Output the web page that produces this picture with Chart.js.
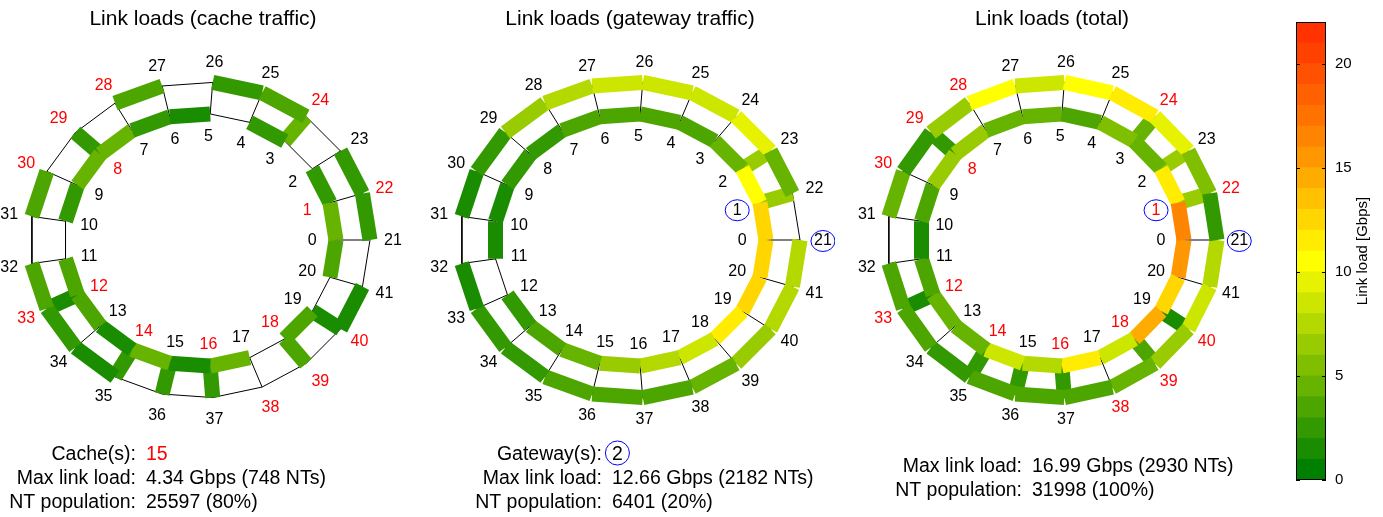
<!DOCTYPE html>
<html lang="en">
<head>
<meta charset="UTF-8">
<title>Link loads</title>
<script src="https://cdn.jsdelivr.net/npm/chart.js@4.4.1/dist/chart.umd.min.js"></script>
<style>
  html, body {margin: 0; padding: 0; background: #fff; overflow: hidden;}
  canvas {position: absolute; top: 0;}
</style>
</head>
<body>
<canvas id="cache" width="406" height="517" style="left:0px"></canvas>
<canvas id="gateway" width="410" height="517" style="left:425px"></canvas>
<canvas id="total" width="410" height="517" style="left:847px"></canvas>
<canvas id="colorbar" width="87" height="517" style="left:1295px"></canvas>
<script>
// two rings of 21 nodes: inner 0..20, outer 21..41 (outer 21+k sits next to inner k)
const RING = 21;
const cacheNodes = [1, 8, 12, 14, 16, 18, 22, 24, 28, 29, 30, 33, 38, 39, 40];
const gatewayNodes = [1, 21];

// link loads in Gbps. index k -> inner k-(k+1), outer (21+k)-(22+k), spoke k-(21+k)
const cacheInner  = [4.34, 2.4, 0, 2.3, 0, 1.5, 2.5, 4.1, 4.2, 2.6, 0, 3.3, 3.2, 1.6, 4.0, 1.4, 4.1, 0, 3.4, 0, 3.1];
const cacheOuter  = [2.5, 2.6, 0, 3.3, 2.4, 0, 3.2, 0, 0, 3.4, 0, 3.3, 2.5, 1.5, 0, 0, 0, 0, 0, 1.4, 0];
const cacheSpokes = [0, 0, 0, 4.2, 0, 0, 0, 0, 2.4, 0, 0, 0, 1.3, 0, 2.3, 2.5, 2.6, 0, 3.3, 1.5, 0];

const gwInner  = [12.66, 10.5, 4.3, 3.8, 3.4, 3.3, 3.2, 2.5, 2.4, 1.5, 1.2, 0, 2.2, 3.1, 4.4, 6.3, 7.4, 8.5, 11.3, 12.1, 12.3];
const gwOuter  = [0, 4.4, 9.4, 8.6, 8.5, 8.4, 7.6, 6.4, 2.4, 1.3, 0, 1.2, 2.3, 2.5, 3.2, 3.3, 3.4, 4.1, 6.2, 7.4, 7.6];
const gwSpokes = [0, 6.3, 6.4, 0, 0, 0, 0, 0, 0, 0, 0, 0, 0, 0, 0, 0, 0, 0, 0, 0, 0];

const totInner  = [16.99, 11.4, 4.5, 5.6, 3.4, 4.6, 4.7, 6.6, 6.6, 3.9, 1.2, 3.3, 4.8, 4.4, 8.4, 7.7, 11.5, 8.5, 14.6, 12.1, 15.0];
const totOuter  = [2.5, 5.6, 9.4, 11.6, 10.8, 8.4, 10.8, 6.4, 2.4, 4.7, 0, 3.6, 3.8, 2.9, 3.2, 3.3, 3.4, 4.1, 6.2, 8.8, 7.6];
const totSpokes = [0, 6.3, 6.4, 4.2, 0, 0, 0, 0, 2.4, 0, 0, 0, 1.3, 0, 2.3, 2.5, 2.6, 0, 3.3, 1.5, 0];

// colour bar: one cell per 1 Gbps step
const colorbarEdges = [0, 1, 2, 3, 4, 5, 6, 7, 8, 9, 10, 11, 12, 13, 14, 15, 16, 17, 18, 19, 20, 21, 22];
const levelColors = [
  'rgb(0,128,0)', 'rgb(26,140,0)', 'rgb(51,153,0)', 'rgb(77,166,0)', 'rgb(102,179,0)',
  'rgb(128,191,0)', 'rgb(153,204,0)', 'rgb(179,217,0)', 'rgb(204,230,0)', 'rgb(230,242,0)',
  'rgb(255,255,0)', 'rgb(255,236,0)', 'rgb(255,214,0)', 'rgb(255,193,0)', 'rgb(255,172,0)',
  'rgb(255,152,0)', 'rgb(255,132,0)', 'rgb(255,114,0)', 'rgb(255,97,0)', 'rgb(255,81,0)',
  'rgb(255,65,0)', 'rgb(255,50,0)'
];
const colorbarTicks = [0, 5, 10, 15, 20];

const FONT = "'Liberation Sans', Arial, Helvetica, sans-serif";
Chart.defaults.font.family = FONT;
Chart.defaults.color = '#000';

const R_IN = 0.8, R_OUT = 1;
const LABEL_IN = 0.66, LABEL_OUT = 1.135;
const CY = 240, SY = 158, PAGE_H = 517;
const TITLE_SIZE = 21;
const TITLE_H = TITLE_SIZE * 1.2 + 7 + 6;

function loadColor(v) {
  let i = colorbarEdges.findIndex((e, j) => v >= e && v < colorbarEdges[j + 1]);
  if (i < 0) i = levelColors.length - 1;
  return levelColors[i];
}

function nodeAt(n, r) {
  const a = 2 * Math.PI * (n % RING) / RING;
  return {x: r * Math.cos(a), y: r * Math.sin(a)};
}
function nodeXY(n) { return nodeAt(n, n < RING ? R_IN : R_OUT); }

function linkList(inner, outer, spokes) {
  const list = [];
  for (let k = 0; k < RING; k++) {
    list.push([k, (k + 1) % RING, inner[k]]);
    list.push([RING + k, RING + (k + 1) % RING, outer[k]]);
    list.push([k, RING + k, spokes[k]]);
  }
  return list;
}

function ringPanel(id, cfg) {
  const canvas = document.getElementById(id);
  const left = parseFloat(canvas.style.left);
  const W = canvas.width;
  const links = linkList(cfg.inner, cfg.outer, cfg.spokes);

  const thin = links.map(([a, b]) => {
    const first = (a === 0 && b === RING);
    return {
      data: [nodeXY(a), nodeXY(b)], showLine: true, pointRadius: 0,
      borderColor: first ? '#808080' : '#000', borderWidth: first ? 2 : 1, order: 2
    };
  });
  const bars = links.filter(l => l[2] > 0).map(([a, b, v]) => ({
    data: [nodeXY(a), nodeXY(b)], showLine: true, pointRadius: 0,
    borderColor: loadColor(v), borderWidth: 15, borderCapStyle: 'butt', order: 1
  }));

  const labels = {
    id: 'labels_' + id,
    afterDatasetsDraw(chart) {
      const ctx = chart.ctx, sx = chart.scales.x, sy = chart.scales.y;
      ctx.save();
      ctx.font = '16px ' + FONT;
      ctx.textAlign = 'center';
      ctx.textBaseline = 'middle';
      for (let n = 0; n < 2 * RING; n++) {
        const p = nodeAt(n, n < RING ? LABEL_IN : LABEL_OUT);
        const px = sx.getPixelForValue(p.x), py = sy.getPixelForValue(p.y);
        ctx.fillStyle = (cfg.caches && cacheNodes.includes(n)) ? '#ff0000' : '#000';
        ctx.fillText(String(n), px, py + 1);
        if (cfg.gateways && gatewayNodes.includes(n)) {
          ctx.strokeStyle = '#0000ff';
          ctx.lineWidth = 1;
          ctx.beginPath();
          ctx.ellipse(px, py + 1, 12, 10.5, 0, 0, 2 * Math.PI);
          ctx.stroke();
        }
      }
      // statistics under the rings
      ctx.font = '19.5px ' + FONT;
      cfg.stats.forEach((row, i) => {
        const y = cfg.statY + i * 24;
        ctx.textAlign = 'right';
        ctx.fillStyle = '#000';
        ctx.fillText(row[0], cfg.statX - left, y);
        ctx.textAlign = 'left';
        ctx.fillStyle = row[2] || '#000';
        ctx.fillText(row[1], cfg.statX + 10 - left, y);
        if (row[3]) {
          const w = ctx.measureText(row[1]).width;
          ctx.strokeStyle = '#0000ff';
          ctx.lineWidth = 1;
          ctx.beginPath();
          ctx.ellipse(cfg.statX + 10 - left + w / 2, y - 2, 12, 12, 0, 0, 2 * Math.PI);
          ctx.stroke();
        }
      });
      ctx.restore();
    }
  };

  return new Chart(canvas, {
    type: 'scatter',
    data: {datasets: [...bars, ...thin]},
    options: {
      responsive: false,
      animation: false,
      events: [],
      layout: {padding: 0},
      plugins: {
        legend: {display: false},
        tooltip: {enabled: false},
        title: {
          display: true, text: cfg.title, color: '#000',
          font: {size: TITLE_SIZE, weight: 'normal'}, padding: {top: 7, bottom: 6}
        }
      },
      scales: {
        x: {type: 'linear', display: false, min: (left - cfg.cx) / cfg.sx, max: (left + W - cfg.cx) / cfg.sx},
        y: {type: 'linear', display: false, min: (CY - PAGE_H) / SY, max: (CY - TITLE_H) / SY}
      }
    },
    plugins: [labels]
  });
}

ringPanel('cache', {
  title: 'Link loads (cache traffic)', cx: 200, sx: 170,
  inner: cacheInner, outer: cacheOuter, spokes: cacheSpokes,
  caches: true, gateways: false,
  statX: 136, statY: 455,
  stats: [['Cache(s):', '15', '#ff0000'], ['Max link load:', '4.34 Gbps (748 NTs)'], ['NT population:', '25597 (80%)']]
});

ringPanel('gateway', {
  title: 'Link loads (gateway traffic)', cx: 630, sx: 170,
  inner: gwInner, outer: gwOuter, spokes: gwSpokes,
  caches: false, gateways: true,
  statX: 602, statY: 455,
  stats: [['Gateway(s):', '2', '#000', true], ['Max link load:', '12.66 Gbps (2182 NTs)'], ['NT population:', '6401 (20%)']]
});

ringPanel('total', {
  title: 'Link loads (total)', cx: 1052, sx: 165,
  inner: totInner, outer: totOuter, spokes: totSpokes,
  caches: true, gateways: true,
  statX: 1022, statY: 467,
  stats: [['Max link load:', '16.99 Gbps (2930 NTs)'], ['NT population:', '31998 (100%)']]
});

// colour bar
const colorbarFrame = {
  id: 'colorbarFrame',
  afterDraw(chart) {
    const ctx = chart.ctx, a = chart.chartArea, sy = chart.scales.y;
    ctx.save();
    ctx.strokeStyle = '#000';
    ctx.lineWidth = 1;
    ctx.strokeRect(a.left + 0.5, a.top + 0.5, a.right - a.left - 1, a.bottom - a.top - 1);
    colorbarTicks.forEach(t => {
      const y = Math.round(sy.getPixelForValue(t)) + 0.5;
      ctx.beginPath();
      ctx.moveTo(a.left, y); ctx.lineTo(a.left + 4, y);
      ctx.moveTo(a.right, y); ctx.lineTo(a.right - 4, y);
      ctx.stroke();
    });
    ctx.translate(68, (a.top + a.bottom) / 2);
    ctx.rotate(-Math.PI / 2);
    ctx.font = '15px ' + FONT;
    ctx.fillStyle = '#000';
    ctx.textAlign = 'center';
    ctx.textBaseline = 'middle';
    ctx.fillText('Link load [Gbps]', 0, 0);
    ctx.restore();
  }
};

new Chart('colorbar', {
  type: 'bar',
  data: {
    labels: [''],
    datasets: levelColors.map((c, i) => ({
      data: [[colorbarEdges[i], colorbarEdges[i + 1]]],
      backgroundColor: c, borderWidth: 0, barPercentage: 1, categoryPercentage: 1, grouped: false
    }))
  },
  options: {
    responsive: false,
    animation: false,
    events: [],
    layout: {padding: {left: 1, top: 22, bottom: 37, right: 0}},
    plugins: {legend: {display: false}, tooltip: {enabled: false}},
    scales: {
      x: {display: false},
      y: {
        position: 'right', min: 0, max: 22,
        ticks: {stepSize: 5, includeBounds: false, padding: 9, font: {size: 15}, color: '#000'},
        grid: {drawOnChartArea: false, drawTicks: false},
        border: {display: false},
        afterFit(scale) { scale.width = 56; }
      }
    }
  },
  plugins: [colorbarFrame]
});
</script>
</body>
</html>
